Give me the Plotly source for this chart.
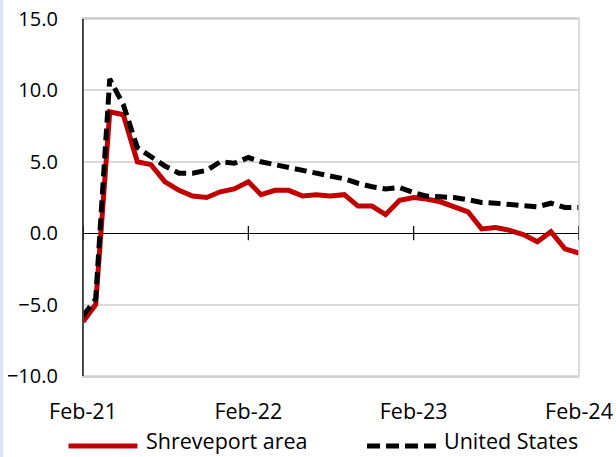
import pandas as pd
import plotly.graph_objects as go

months = pd.date_range("2021-02-01", "2024-02-01", freq="MS")
shreveport = [-6.2, -5.0, 8.5, 8.3, 5.0, 4.8, 3.6, 3.0, 2.6, 2.5, 2.9, 3.1, 3.6,
              2.7, 3.0, 3.0, 2.6, 2.7, 2.6, 2.7, 1.9, 1.9, 1.3, 2.3, 2.5, 2.4,
              2.2, 1.9, 1.5, 0.3, 0.4, 0.2, -0.1, -0.6, 0.1, -1.1, -1.4]
us = [-5.8, -4.6, 10.8, 9.0, 6.0, 5.4, 4.7, 4.2, 4.2, 4.4, 5.0, 4.9, 5.3,
      5.0, 4.8, 4.6, 4.4, 4.2, 4.0, 3.8, 3.5, 3.25, 3.1, 3.2, 2.85, 2.6,
      2.55, 2.5, 2.35, 2.15, 2.1, 2.0, 1.9, 1.85, 2.1, 1.8, 1.8]
tick_dates = ["2021-02-01", "2022-02-01", "2023-02-01", "2024-02-01"]
tick_text = ["Feb-21", "Feb-22", "Feb-23", "Feb-24"]
series_names = ["Shreveport area", "United States"]

FONT = "Open Sans"
RED = "#C00000"

fig = go.Figure()
fig.add_trace(go.Scatter(x=months, y=shreveport, mode="lines", name=series_names[0],
                         line=dict(color=RED, width=5)))
fig.add_trace(go.Scatter(x=months, y=us, mode="lines", name=series_names[1],
                         line=dict(color="black", width=5, dash="12px,6px")))

L, T = 82.5, 19
PW, PH = 496.8, 357.0
W, H = 616, 457

def px(xp):
    return (xp - L) / PW
def py(yp):
    return (T + PH - yp) / PH

shapes = []
shapes.append(dict(type="rect", xref="paper", yref="paper", x0=0, x1=1, y0=0, y1=1,
                   line=dict(color="#d0d0d0", width=1.5), layer="above"))
shapes.append(dict(type="line", xref="paper", yref="paper", x0=0, x1=0, y0=0, y1=1,
                   line=dict(color="black", width=1.2), layer="above"))
for d in tick_dates:
    shapes.append(dict(type="line", xref="x", yref="y", x0=d, x1=d, y0=-0.5, y1=0.5,
                       line=dict(color="black", width=1.2)))
shapes.append(dict(type="line", xref="paper", yref="paper", x0=px(1), x1=px(1),
                   y0=py(470), y1=py(-10), line=dict(color="#dae3f3", width=3)))

ly = py(446)
shapes.append(dict(type="line", xref="paper", yref="paper", x0=px(68), x1=px(137), y0=ly, y1=ly,
                   line=dict(color=RED, width=5)))
shapes.append(dict(type="line", xref="paper", yref="paper", x0=px(367), x1=px(436), y0=ly, y1=ly,
                   line=dict(color="black", width=5, dash="13px,6px")))

ty = py(456.5)
annotations = [
    dict(x=px(144), y=ty, xref="paper", yref="paper", text=series_names[0], showarrow=False,
         xanchor="left", yanchor="bottom", font=dict(family=FONT, size=21.5, color="black")),
    dict(x=px(442), y=ty, xref="paper", yref="paper", text=series_names[1], showarrow=False,
         xanchor="left", yanchor="bottom", font=dict(family=FONT, size=21.5, color="black")),
]

fig.update_layout(
    width=W, height=H,
    margin=dict(l=L, r=W - L - PW, t=T, b=H - T - PH, autoexpand=False),
    paper_bgcolor="white", plot_bgcolor="white",
    showlegend=False,
    font=dict(family=FONT, size=20, color="black"),
    shapes=shapes, annotations=annotations,
    xaxis=dict(range=["2021-02-01", "2024-02-01"], tickvals=tick_dates, ticktext=tick_text,
               showgrid=False, zeroline=False, showline=True, mirror=True,
               linecolor="#d0d0d0", linewidth=1.5, ticks="", automargin=False,
               ticklabeloverflow="allow",
               ticklabelstandoff=15, tickfont=dict(family=FONT, size=21.5, color="black")),
    yaxis=dict(range=[-10, 15], dtick=5, tick0=0, tickformat=".1f", automargin=False,
               ticklabeloverflow="allow",
               showgrid=True, gridcolor="#d9d9d9", gridwidth=1.5,
               zeroline=True, zerolinecolor="black", zerolinewidth=1.2,
               showline=True, linecolor="black", linewidth=1.2, ticks="",
               ticklabelstandoff=20, tickfont=dict(family=FONT, size=20, color="black")),
)

fig.write_html("out.html", config={"displayModeBar": False},
               post_script="document.body.style.margin='0';document.body.style.overflow='hidden';")
